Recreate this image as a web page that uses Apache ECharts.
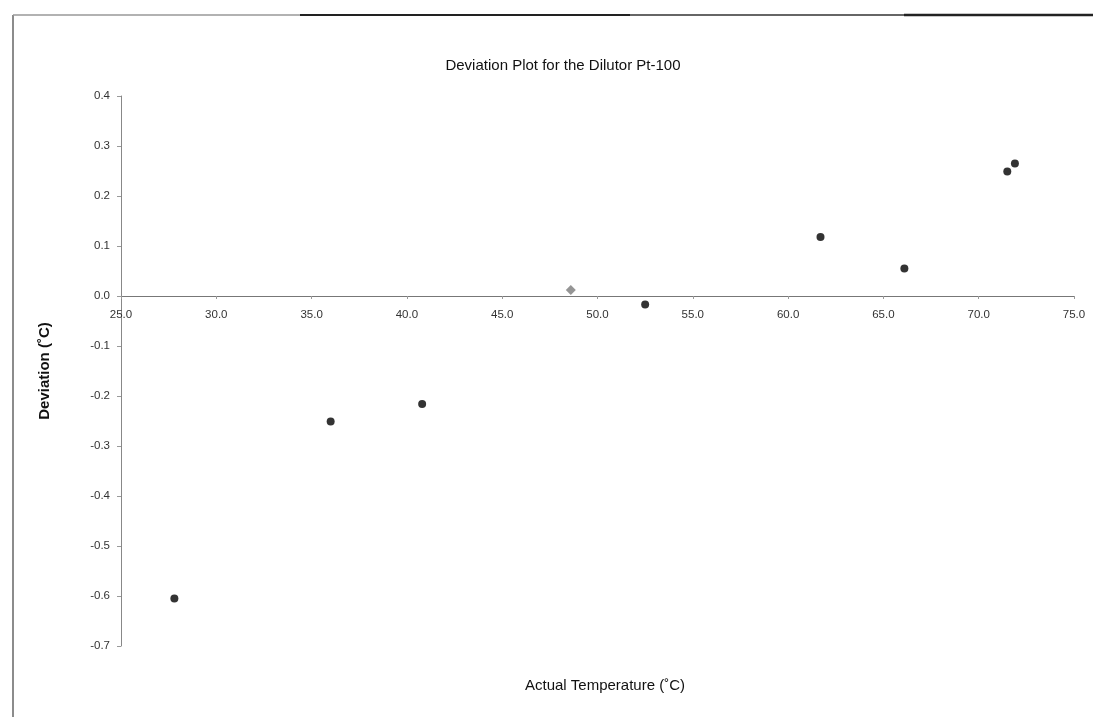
<!DOCTYPE html>
<html>
<head>
<meta charset="utf-8">
<script src="https://cdn.jsdelivr.net/npm/echarts@6/dist/echarts.min.js"></script>
<style>
  html, body { margin: 0; padding: 0; background: #fff; }
  #chart { width: 1093px; height: 717px; }
</style>
</head>
<body>
<div id="chart"></div>
<script>
// Actual temperature (°C) and deviation (°C) of the Pt-100 readings
const tempMain = [27.8, 36.0, 40.8, 52.5, 61.7, 66.1, 71.5, 71.9];
const devMain  = [-0.605, -0.251, -0.216, -0.017, 0.118, 0.055, 0.249, 0.265];

// Single reference reading drawn with a grey diamond
const tempRef = [48.6];
const devRef  = [0.012];

const titleText = 'Deviation Plot for the Dilutor Pt-100';
const xTitle = 'Actual Temperature (˚C)';
const yTitle = 'Deviation (˚C)';

const Y_MIN = -0.7, Y_MAX = 0.4;
const GRID_TOP = 96, GRID_BOTTOM = 71, CHART_H = 717;

const pairs = (xs, ys) => xs.map((x, i) => [x, ys[i]]);

// distance from the bottom of the grid up to the y = 0 line
const plotH = CHART_H - GRID_TOP - GRID_BOTTOM;
const zeroLift = plotH * (0 - Y_MIN) / (Y_MAX - Y_MIN);

const chart = echarts.init(document.getElementById('chart'), null, { renderer: 'canvas' });

const labelStyle = {
  fontFamily: 'Liberation Sans, Arial, sans-serif',
  fontSize: 11.5,
  color: '#333'
};

chart.setOption({
  backgroundColor: '#ffffff',
  animation: false,
  title: [
    {
      text: titleText,
      left: 558,
      top: 53,
      textAlign: 'center',
      textStyle: {
        fontFamily: 'Liberation Sans, Arial, sans-serif',
        fontSize: 15,
        fontWeight: 'normal',
        color: '#111'
      }
    },
    {
      text: xTitle,
      left: 600,
      top: 673,
      textAlign: 'center',
      textStyle: {
        fontFamily: 'Liberation Sans, Arial, sans-serif',
        fontSize: 15,
        fontWeight: 'normal',
        color: '#111'
      }
    }
  ],
  grid: {
    left: 121,
    right: 19,
    top: GRID_TOP,
    bottom: GRID_BOTTOM,
    containLabel: false
  },
  xAxis: {
    type: 'value',
    min: 25,
    max: 75,
    interval: 5,
    position: 'bottom',
    offset: -zeroLift,
    axisLine: { onZero: false, lineStyle: { color: '#777', width: 1 } },
    axisTick: { show: true, inside: false, length: 3, lineStyle: { color: '#999' } },
    axisLabel: Object.assign({ margin: 13, formatter: v => v.toFixed(1) }, labelStyle),
    splitLine: { show: false }
  },
  yAxis: {
    type: 'value',
    min: Y_MIN,
    max: Y_MAX,
    interval: 0.1,
    name: yTitle,
    nameLocation: 'middle',
    nameGap: 69,
    nameRotate: 90,
    nameTextStyle: {
      fontFamily: 'Liberation Sans, Arial, sans-serif',
      fontSize: 15,
      fontWeight: 'bold',
      color: '#111'
    },
    axisLine: { onZero: false, lineStyle: { color: '#888', width: 1 } },
    axisTick: { show: true, length: 4, lineStyle: { color: '#999' } },
    axisLabel: Object.assign({ margin: 11, formatter: v => (Math.round(v * 10) / 10).toFixed(1) }, labelStyle),
    splitLine: { show: false }
  },
  series: [
    {
      type: 'scatter',
      data: pairs(tempMain, devMain),
      symbol: 'circle',
      symbolSize: 8,
      itemStyle: { color: '#000' }
    },
    {
      type: 'scatter',
      data: pairs(tempRef, devRef),
      symbol: 'diamond',
      symbolSize: 10,
      itemStyle: { color: '#7a7a7a' }
    }
  ],
  graphic: [
    // frame edges around the chart area
    { type: 'line', shape: { x1: 13, y1: 15, x2: 13, y2: 717 }, style: { stroke: '#666', lineWidth: 1.5 } },
    { type: 'line', shape: { x1: 13, y1: 15, x2: 300, y2: 15 }, style: { stroke: '#999', lineWidth: 1.5 } },
    { type: 'line', shape: { x1: 300, y1: 15, x2: 630, y2: 15 }, style: { stroke: '#222', lineWidth: 2 } },
    { type: 'line', shape: { x1: 630, y1: 15, x2: 904, y2: 15 }, style: { stroke: '#666', lineWidth: 2 } },
    { type: 'line', shape: { x1: 904, y1: 15, x2: 1093, y2: 15 }, style: { stroke: '#222', lineWidth: 2.5 } }
  ]
});
</script>
</body>
</html>
